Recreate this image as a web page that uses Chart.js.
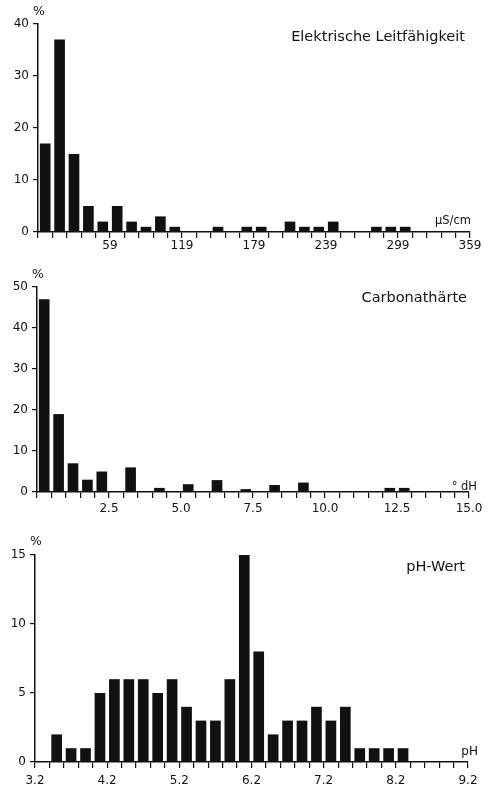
<!DOCTYPE html>
<html>
<head>
<meta charset="utf-8">
<script src="https://cdn.jsdelivr.net/npm/chart.js@4.4.1/dist/chart.umd.min.js"></script>
<style>
  html, body { margin: 0; padding: 0; background: #fff; }
  .panel { position: absolute; left: 0; }
</style>
</head>
<body>
<canvas id="cond" class="panel" width="490" height="262" style="top:0"></canvas>
<canvas id="carb" class="panel" width="490" height="266" style="top:262px"></canvas>
<canvas id="ph" class="panel" width="490" height="263" style="top:528px"></canvas>
<script>
// Elektrische Leitfähigkeit (µS/cm), bins of 12 starting at -1
const condCenters = [5, 17, 29, 41, 53, 65, 77, 89, 101, 113, 125, 137, 149, 161, 173,
    185, 197, 209, 221, 233, 245, 257, 269, 281, 293, 305, 317, 329, 341, 353];
const condValues = [17, 37, 15, 5, 2, 5, 2, 1, 3, 1, 0, 0, 1, 0, 1,
    1, 0, 2, 1, 1, 2, 0, 0, 1, 1, 1, 0, 0, 0, 0];
const condTickLabels = ['59', '119', '179', '239', '299', '359'];

// Carbonathärte (° dH), bins of 0.5
const carbCenters = [0.25, 0.75, 1.25, 1.75, 2.25, 2.75, 3.25, 3.75, 4.25, 4.75, 5.25, 5.75, 6.25, 6.75, 7.25,
    7.75, 8.25, 8.75, 9.25, 9.75, 10.25, 10.75, 11.25, 11.75, 12.25, 12.75, 13.25, 13.75, 14.25, 14.75];
const carbValues = [47, 19, 7, 3, 5, 0, 6, 0, 1, 0, 1.9, 0, 2.9, 0, 0.7,
    0, 1.7, 0, 2.3, 0, 0, 0, 0, 0, 1, 1, 0, 0, 0, 0];
const carbTickLabels = ['2.5', '5.0', '7.5', '10.0', '12.5', '15.0'];

// pH-Wert, bins of 0.2
const phCenters = [3.3, 3.5, 3.7, 3.9, 4.1, 4.3, 4.5, 4.7, 4.9, 5.1, 5.3, 5.5, 5.7, 5.9, 6.1,
    6.3, 6.5, 6.7, 6.9, 7.1, 7.3, 7.5, 7.7, 7.9, 8.1, 8.3, 8.5, 8.7, 8.9, 9.1];
const phValues = [0, 2, 1, 1, 5, 6, 6, 6, 5, 6, 4, 3, 3, 6, 15,
    8, 2, 3, 3, 4, 3, 4, 1, 1, 1, 1, 0, 0, 0, 0];
const phTickLabels = ['3.2', '4.2', '5.2', '6.2', '7.2', '8.2', '9.2'];

const INK = '#111';
const FONT = "'DejaVu Sans', Verdana, sans-serif";

// draws title, unit and % sign
const panelText = {
    id: 'panelText',
    afterDraw(chart, args, opts) {
        const ctx = chart.ctx;
        ctx.save();
        ctx.fillStyle = INK;
        ctx.textBaseline = 'middle';
        opts.items.forEach(t => {
            ctx.font = t.size + 'px ' + FONT;
            ctx.textAlign = t.align;
            ctx.fillText(t.text, t.x, t.y);
        });
        ctx.restore();
    }
};

function makePanel(id, p) {
    const canvas = document.getElementById(id);
    const h = canvas.height;
    return new Chart(canvas, {
        type: 'bar',
        data: {
            datasets: [{
                data: p.centers.map((c, i) => ({ x: c, y: p.values[i] })),
                backgroundColor: INK,
                borderWidth: 0,
                barPercentage: 0.74,
                categoryPercentage: 1
            }]
        },
        plugins: [panelText],
        options: {
            responsive: false,
            animation: false,
            layout: { padding: { left: 0, right: 490 - p.right, top: p.top, bottom: 0 } },
            plugins: {
                legend: { display: false },
                tooltip: { enabled: false },
                panelText: { items: p.texts }
            },
            scales: {
                x: {
                    type: 'linear',
                    offset: false,
                    min: p.xMin,
                    max: p.xMax,
                    afterFit: s => { s.height = h - p.bottom; },
                    afterBuildTicks: s => {
                        const n = Math.round((p.xMax - p.xMin) / p.step);
                        s.ticks = Array.from({ length: n + 1 }, (_, i) => ({ value: +(p.xMin + i * p.step).toFixed(3) }));
                    },
                    grid: { offset: false, drawOnChartArea: false, tickLength: 6, color: INK, lineWidth: 1.2 },
                    border: { display: true, color: INK, width: 1.5 },
                    ticks: {
                        autoSkip: false,
                        maxRotation: 0,
                        padding: p.xPad,
                        color: INK,
                        font: { family: FONT, size: 12 },
                        callback: v => p.tickLabels.find(l => Math.abs(Number(l) - v) < 1e-6) || ''
                    }
                },
                y: {
                    min: 0,
                    max: p.yMax,
                    afterFit: s => { s.width = p.left; },
                    grid: { drawOnChartArea: false, tickLength: 5, color: INK, lineWidth: 1.2 },
                    border: { display: true, color: INK, width: 1.5 },
                    ticks: {
                        stepSize: p.yStep,
                        padding: 4,
                        color: INK,
                        font: { family: FONT, size: 12 }
                    }
                }
            }
        }
    });
}

makePanel('cond', {
    centers: condCenters, values: condValues, tickLabels: condTickLabels,
    xMin: -1, xMax: 359, step: 12, yMax: 40, yStep: 10,
    left: 38, right: 470, top: 24, bottom: 232, xPad: 1,
    texts: [
        { text: '%', x: 39, y: 12, size: 12.5, align: 'center' },
        { text: 'Elektrische Leitfähigkeit', x: 465, y: 37, size: 14.5, align: 'right' },
        { text: 'µS/cm', x: 471, y: 221, size: 11.5, align: 'right' }
    ]
});

makePanel('carb', {
    centers: carbCenters, values: carbValues, tickLabels: carbTickLabels,
    xMin: 0, xMax: 15, step: 0.5, yMax: 50, yStep: 10,
    left: 37, right: 469, top: 25, bottom: 230, xPad: 4,
    texts: [
        { text: '%', x: 38, y: 13, size: 12.5, align: 'center' },
        { text: 'Carbonathärte', x: 467, y: 36, size: 14.5, align: 'right' },
        { text: '° dH', x: 477, y: 225, size: 11.5, align: 'right' }
    ]
});

makePanel('ph', {
    centers: phCenters, values: phValues, tickLabels: phTickLabels,
    xMin: 3.2, xMax: 9.2, step: 0.2, yMax: 15, yStep: 5,
    left: 35, right: 468, top: 27, bottom: 234, xPad: 6,
    texts: [
        { text: '%', x: 36, y: 14, size: 12.5, align: 'center' },
        { text: 'pH-Wert', x: 465, y: 39, size: 14.5, align: 'right' },
        { text: 'pH', x: 478, y: 224, size: 12, align: 'right' }
    ]
});
</script>
</body>
</html>
